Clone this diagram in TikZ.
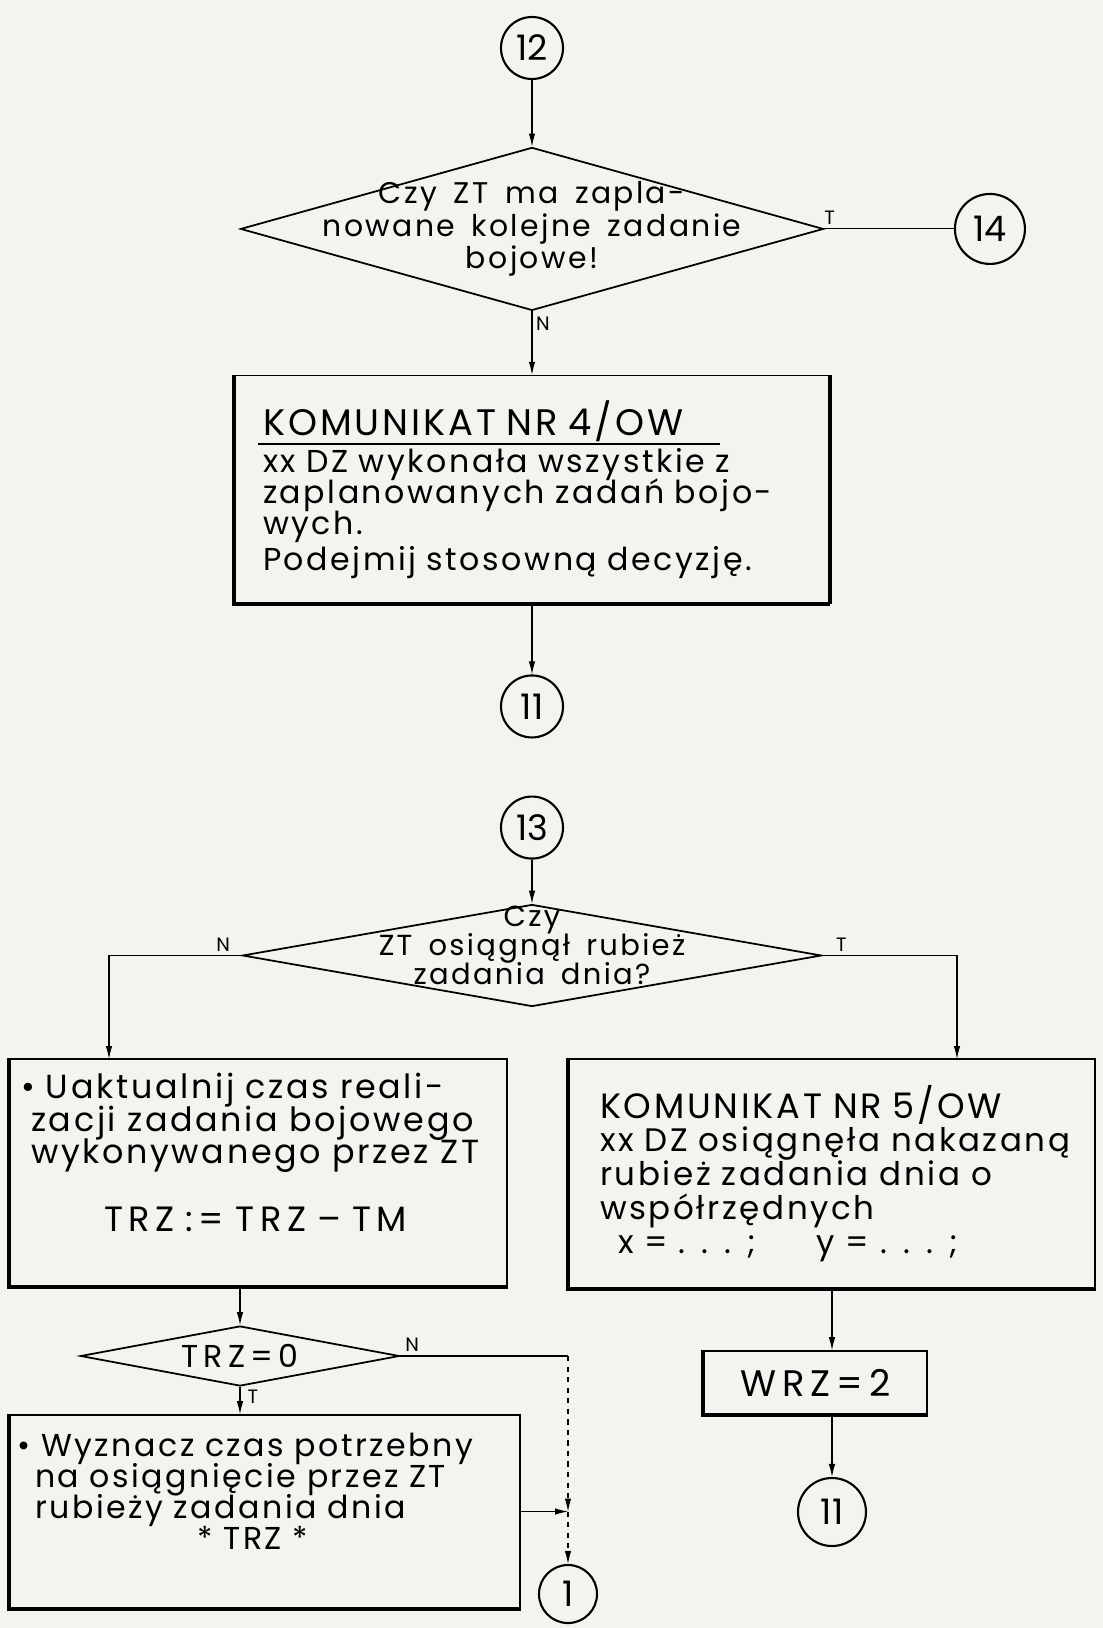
\documentclass[tikz,border=0pt]{standalone}
\usepackage{fontspec}
\setmainfont{Poppins}
\newfontfamily\hand[LetterSpace=8,WordSpace=1.6]{Poppins}
\usetikzlibrary{shapes.geometric,arrows.meta,positioning}
\definecolor{paper}{RGB}{243,243,239}
\newcommand\tightlines{\lineskiplimit=-20pt\relax}
\newcommand\wide{\addfontfeature{LetterSpace=16}}

\begin{document}
\begin{tikzpicture}[
    flow/.style={-{Latex[length=2.6mm,width=1.3mm]}, line width=0.6pt},
    conn/.style={circle, draw, line width=1.2pt, minimum size=1.24cm, inner sep=0pt, font=\fontsize{20}{20}\selectfont},
    decision/.style={diamond, draw, line width=1pt, inner sep=0pt},
    dtext/.style={align=center, font=\hand\fontsize{17}{18.5}\selectfont\tightlines},
    block/.style={rectangle, draw, line width=0.9pt, align=left, font=\hand\fontsize{18}{17.6}\selectfont\tightlines},
    lbl/.style={font=\fontsize{11}{11}\selectfont, inner sep=2pt},
]
\fill[paper] (0,0) rectangle (22.06,-32.56);
\useasboundingbox (0,0) rectangle (22.06,-32.56);

% upper part: 12 -> question -> 4/OW
\node[conn] (c12) at (10.64,-0.96) {12};
\node[decision, below=1.33cm of c12, minimum width=11.66cm, minimum height=3.26cm] (d1) {};
\node[dtext] (q1) at (d1) {Czy ZT ma zapla-\\nowane kolejne zadanie\\bojowe!};
\node[conn, minimum size=1.4cm, right=2.59cm of d1] (c14) {14};
\node[block, below=1.27cm of d1, minimum height=4.56cm, text width=10.76cm, inner xsep=0.56cm] (box1)
  {\mbox{\fontsize{21}{22}\selectfont KOMUNIKAT NR 4/OW}\\[-0.42cm]
   \hspace*{-0.1cm}\rule{9.24cm}{0.9pt}\\[-0.06cm]
   \mbox{xx DZ wykonała wszystkie z}\\
   \mbox{zaplanowanych zadań bojo-}\\
   wych.\\[0.1cm]
   \mbox{Podejmij stosowną decyzję.}};
\node[conn, below=1.4cm of box1] (c11a) {11};

% lower part: 13 -> question -> two branches
\node[conn, below=1.14cm of c11a] (c13) {13};
\node[decision, below=0.88cm of c13, minimum width=11.58cm, minimum height=2.04cm] (d2) {};
\node[dtext, font=\hand\fontsize{16.5}{16.5}\selectfont\tightlines] (q2) at ([yshift=0.2cm]d2.center) {Czy\\ZT osiągnął rubież\\zadania dnia?};
\coordinate (dl) at (2.18,-21.18);
\coordinate (dr) at (19.14,-21.18);

\node[block, minimum height=4.54cm, text width=9.5cm, inner xsep=0.22cm, font=\hand\fontsize{19}{18.4}\selectfont\tightlines] (boxL) at (5.17,-23.45)
  {\mbox{• Uaktualnij czas reali-}\\
   \hspace*{0.2cm}\mbox{zacji zadania bojowego}\\
   \hspace*{0.2cm}\mbox{wykonywanego przez ZT}\\[0.72cm]
   \hspace*{1.66cm}\mbox{\wide\fontsize{20}{20}\selectfont TRZ := TRZ – TM}\\[0.15cm]\mbox{}};
\node[block, minimum height=4.58cm, text width=10.12cm, inner xsep=0.2cm, font=\hand\fontsize{18.5}{19.3}\selectfont\tightlines] (boxR) at (16.64,-23.47)
  {\leftskip=0.42cm \mbox{\fontsize{20}{19.3}\selectfont KOMUNIKAT NR 5/OW}\\
   \mbox{xx DZ osiągnęła nakazaną}\\
   \mbox{rubież zadania dnia o}\\
   \mbox{współrzędnych}\\
   \hspace*{0.78cm}\mbox{x = . . . ;\hspace{1.2cm}y = . . . ;}};

\node[decision, minimum width=6.38cm, minimum height=1.2cm] (d3) at (4.8,-27.12) {};
\node[dtext, font=\hand\wide\fontsize{18}{18}\selectfont] (q3) at (d3) {TRZ=0};
\node[block, minimum height=3.86cm, text width=9.9cm, inner xsep=0.15cm, font=\hand\fontsize{18}{17.6}\selectfont\tightlines] (boxB) at (5.3,-30.23)
  {\mbox{• Wyznacz czas potrzebny}\\
   \hspace*{0.35cm}\mbox{na osiągnięcie przez ZT}\\
   \hspace*{0.35cm}\mbox{rubieży zadania dnia}\\
   \hspace*{3.6cm}* TRZ *\\[0.2cm]\mbox{}};
\node[conn, minimum size=1.16cm] (c1) at (11.36,-31.88) {1};
\coordinate (jn) at (c1 |- d3.east);
\coordinate (jb) at (c1 |- boxB.east);

\node[block, minimum width=4.46cm, minimum height=1.26cm, align=center, font=\hand\wide\fontsize{21}{21}\selectfont] (wrz) at (16.31,-27.65) {WRZ\,=\,2};
\node[conn, minimum size=1.36cm] (c11b) at (16.64,-30.24) {11};

% heavy edges of the boxes
\foreach \b in {box1, boxL, boxR, wrz, boxB}
  \draw[line width=2.2pt] (\b.north west) -- (\b.south west) -- (\b.south east);
\draw[line width=2.2pt] (box1.north east) -- (box1.south east);

% connectors
\draw[flow] (c12) -- (d1);
\draw[line width=0.6pt] (d1.east) -- (c14) node[lbl, pos=0.04, above] {T};
\draw[flow] (d1) -- (box1) node[lbl, pos=0.2, right] {N};
\draw[flow] (box1) -- (c11a);
\draw[flow] (c13) -- (d2);
\draw[flow] (d2.west) -| (dl) node[lbl, pos=0.07, above] {N};
\draw[flow] (d2.east) -| (dr) node[lbl, pos=0.07, above] {T};
\draw[flow] (boxL.south -| d3.north) -- (d3.north);
\draw[flow] (d3.south) -- (d3.south |- boxB.north) node[lbl, pos=0.35, right=2pt] {T};
\draw[line width=0.6pt] (d3.east) -- (jn) node[lbl, pos=0.07, above] {N};
\draw[flow, dashed] (jn) -- (jb);
\draw[flow] (boxB.east) -- (jb);
\draw[flow, dashed] (jb) -- (c1);
\draw[flow] (boxR.south) -- (boxR.south |- wrz.north);
\draw[flow] (wrz.south -| c11b) -- (c11b);
\end{tikzpicture}
\end{document}
